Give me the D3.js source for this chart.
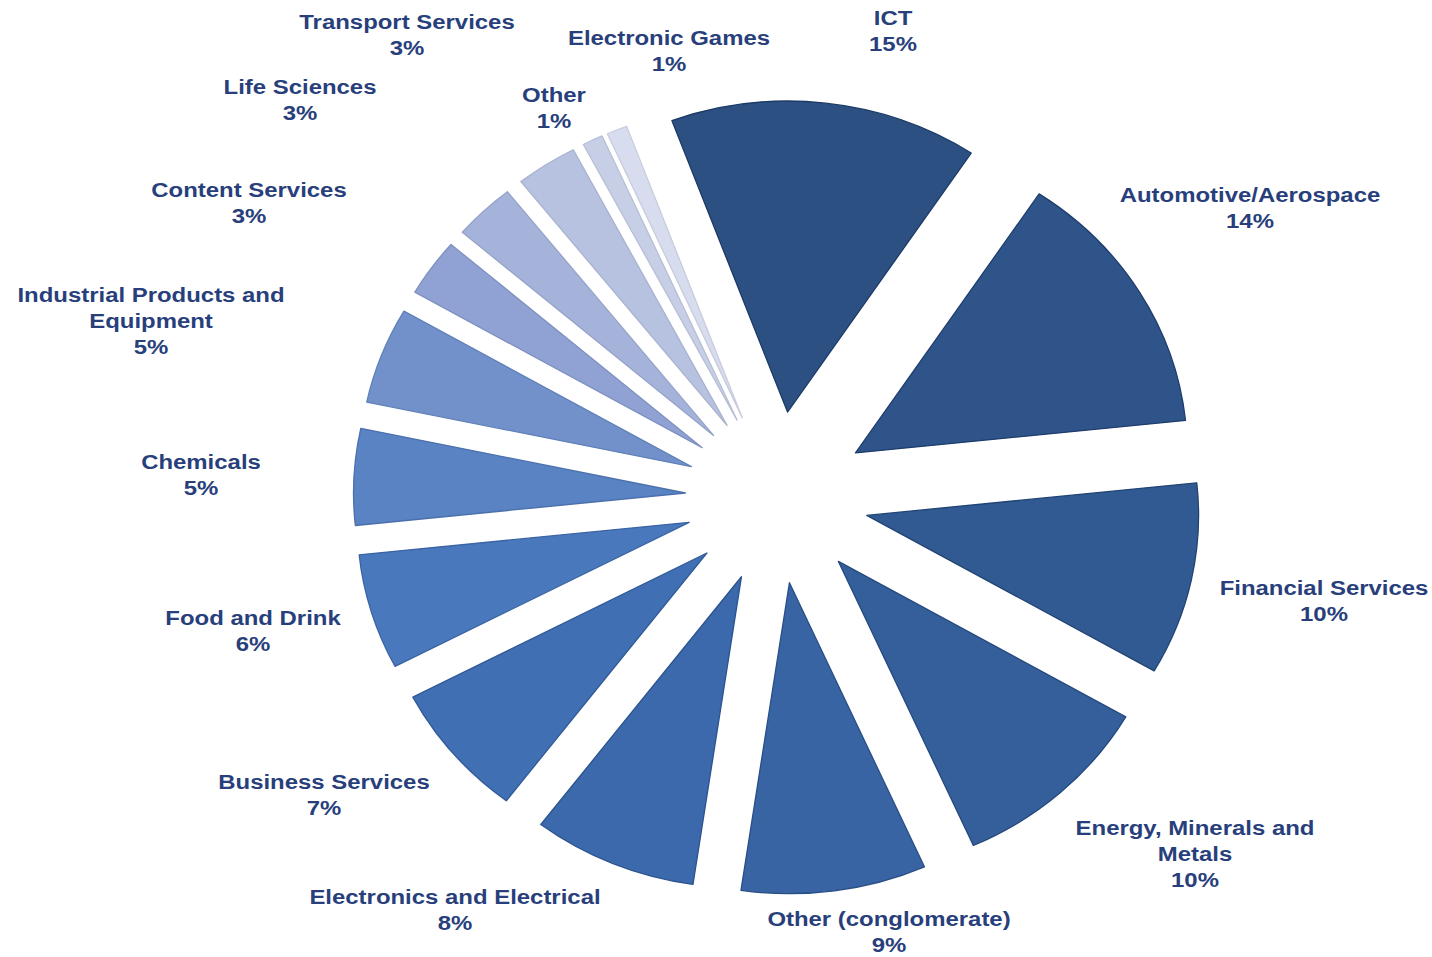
<!DOCTYPE html>
<html>
<head>
<meta charset="utf-8">
<script src="https://cdn.jsdelivr.net/npm/d3@7/dist/d3.min.js"></script>
<style>
  html, body { margin: 0; padding: 0; background: #ffffff; }
  svg { display: block; }
  .lbl { font-family: "Liberation Sans", Arial, sans-serif; font-weight: bold; font-size: 21px; fill: #283f7c; }
</style>
</head>
<body>
<svg id="chart" width="1432" height="957"></svg>
<script>
// Sectors, clockwise from the top
const categories = [
  "ICT", "Automotive/Aerospace", "Financial Services", "Energy, Minerals and\nMetals",
  "Other (conglomerate)", "Electronics and Electrical", "Business Services", "Food and Drink",
  "Chemicals", "Industrial Products and\nEquipment", "Content Services", "Life Sciences",
  "Transport Services", "Other", "Electronic Games"
];
const shares = [15, 14, 10, 10, 9, 8, 7, 6, 5, 5, 3, 3, 3, 1, 1];

// Blue ramp, darkest for the largest sector
const fills = [
  "#2d5082", "#2f5489", "#325a92", "#355f9b", "#3964a4", "#3c69ac", "#416fb4", "#4978bc",
  "#5a83c3", "#7291cb", "#8fa2d3", "#a5b3db", "#b7c2e1", "#c7cfe7", "#d7dcee"
];
const strokes = [
  "#1c3a66", "#1e3d6c", "#214374", "#24487d", "#284e86", "#2b538e", "#305a97", "#3a64a3",
  "#4a70ad", "#6080b8", "#7f91c0", "#96a3c8", "#a8b2ce", "#b8bfd5", "#c8ccdc"
];

// Label anchor points (centre of the first text line), in page pixels
const labelAnchors = [
  [893, 18], [1250, 195], [1324, 588], [1195, 828],
  [889, 919], [455, 897], [324, 782], [253, 618],
  [201, 462], [151, 295], [249, 190], [300, 87],
  [407, 22], [554, 95], [669, 38]
];

const cx = 777, cy = 497.5;
const radius = 311, explode = 86, stretchX = 1.067;
const lineGap = 26, textStretch = 1.14;

const svg = d3.select("#chart");

const start = -20.4 * Math.PI / 180;
const pie = d3.pie().sort(null).value(d => d).startAngle(start).endAngle(start + 2 * Math.PI);
const arcs = pie(shares);
const arc = d3.arc().innerRadius(0).outerRadius(radius);

const g = svg.append("g").attr("transform", `translate(${cx},${cy}) scale(${stretchX},1)`);

g.selectAll("path.slice")
  .data(arcs)
  .join("path")
  .attr("class", "slice")
  .attr("d", arc)
  .attr("transform", d => {
    const mid = (d.startAngle + d.endAngle) / 2;
    return `translate(${explode * Math.sin(mid)},${-explode * Math.cos(mid)})`;
  })
  .attr("fill", (d, i) => fills[i])
  .attr("stroke", (d, i) => strokes[i])
  .attr("stroke-width", 1.3)
  .attr("stroke-linejoin", "round")
  .attr("vector-effect", "non-scaling-stroke");

// Data labels: name lines, then the share
const labels = svg.append("g").selectAll("text")
  .data(arcs)
  .join("text")
  .attr("class", "lbl")
  .attr("text-anchor", "middle")
  .attr("transform", (d, i) => `translate(${labelAnchors[i][0]},${labelAnchors[i][1]}) scale(${textStretch},1)`);

labels.each(function(d, i) {
  const lines = categories[i].split("\n").concat([d3.format("d")(shares[i]) + "%"]);
  d3.select(this).selectAll("tspan")
    .data(lines)
    .join("tspan")
    .attr("x", 0)
    .attr("y", (l, k) => k * lineGap)
    .attr("dominant-baseline", "central")
    .text(l => l);
});
</script>
</body>
</html>
